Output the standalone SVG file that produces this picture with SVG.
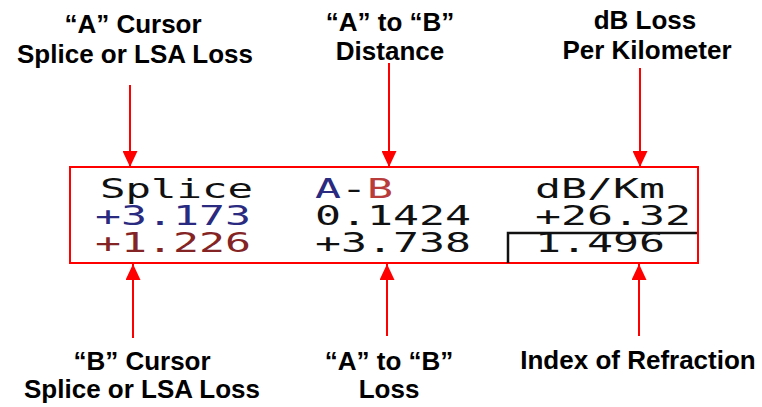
<svg xmlns="http://www.w3.org/2000/svg" width="762" height="407" viewBox="0 0 762 407">
<style>
.lbl{font-family:"Liberation Sans",Arial,sans-serif;font-weight:bold;font-size:26px;fill:#000;text-anchor:middle}
.lcd{font-family:"DejaVu Sans Mono","Liberation Mono",monospace;font-size:26px;fill:#111}
.conn{stroke:#ff0000;stroke-width:2;fill:none}
</style>
<defs>
<marker id="arr" viewBox="0 0 16 15" refX="16" refY="7.5" markerWidth="16" markerHeight="15" markerUnits="userSpaceOnUse" orient="auto">
<path d="M0,0 L16,7.5 L0,15 z" fill="#ff0000"/>
</marker>
</defs>
<rect width="762" height="407" fill="#fff"/>
<g id="display">
<rect x="70" y="167" width="628" height="96" fill="#fff" stroke="#ff0000" stroke-width="2"/>
<path d="M508,263 V233 H697" stroke="#111" stroke-width="2.5" fill="none"/>
<text class="lcd" x="100" y="198" textLength="153" lengthAdjust="spacingAndGlyphs">Splice</text>
<text class="lcd" x="95" y="225" textLength="156" lengthAdjust="spacingAndGlyphs" style="fill:#2a2a80">+3.173</text>
<text class="lcd" x="95" y="252" textLength="156" lengthAdjust="spacingAndGlyphs" style="fill:#842424">+1.226</text>
<text class="lcd" x="315" y="198" textLength="78" lengthAdjust="spacingAndGlyphs"><tspan style="fill:#2a2a80">A</tspan><tspan>-</tspan><tspan style="fill:#b83c3c">B</tspan></text>
<text class="lcd" x="315" y="225" textLength="156" lengthAdjust="spacingAndGlyphs">0.1424</text>
<text class="lcd" x="315" y="252" textLength="156" lengthAdjust="spacingAndGlyphs">+3.738</text>
<text class="lcd" x="535" y="198" textLength="130" lengthAdjust="spacingAndGlyphs">dB/Km</text>
<text class="lcd" x="535" y="225" textLength="156" lengthAdjust="spacingAndGlyphs">+26.32</text>
<text class="lcd" x="535" y="252" textLength="130" lengthAdjust="spacingAndGlyphs">1.496</text>
</g>
<g id="label-a-cursor">
<text class="lbl" x="133" y="33">“A” Cursor</text>
<text class="lbl" x="135" y="63">Splice or LSA Loss</text>
</g>
<g id="label-ab-distance">
<text class="lbl" x="390" y="31">“A” to “B”</text>
<text class="lbl" x="390" y="60">Distance</text>
</g>
<g id="label-db-km">
<text class="lbl" x="645" y="29">dB Loss</text>
<text class="lbl" x="647" y="59">Per Kilometer</text>
</g>
<g id="label-b-cursor">
<text class="lbl" x="142" y="370">“B” Cursor</text>
<text class="lbl" x="142" y="398">Splice or LSA Loss</text>
</g>
<g id="label-ab-loss">
<text class="lbl" x="389" y="370">“A” to “B”</text>
<text class="lbl" x="389" y="398">Loss</text>
</g>
<g id="label-index">
<text class="lbl" x="638" y="369">Index of Refraction</text>
</g>
<g id="connectors">
<line class="conn" x1="130" y1="85" x2="130" y2="167" marker-end="url(#arr)"/>
<line class="conn" x1="389" y1="63" x2="389" y2="167" marker-end="url(#arr)"/>
<line class="conn" x1="640" y1="68" x2="640" y2="167" marker-end="url(#arr)"/>
<line class="conn" x1="133" y1="338" x2="133" y2="264" marker-end="url(#arr)"/>
<line class="conn" x1="387" y1="336" x2="387" y2="264" marker-end="url(#arr)"/>
<line class="conn" x1="639" y1="336" x2="639" y2="264" marker-end="url(#arr)"/>
</g>
</svg>
